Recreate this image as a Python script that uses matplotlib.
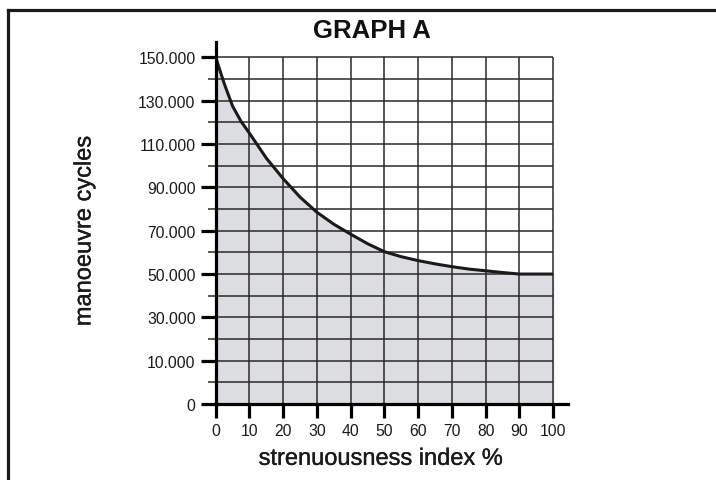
import matplotlib
matplotlib.use("Agg")
import matplotlib.pyplot as plt
import numpy as np
from matplotlib.lines import Line2D
import matplotlib.patheffects as pe

plt.rcParams['font.family'] = ['Liberation Sans', 'DejaVu Sans']

# strenuousness index % vs manoeuvre cycles
index_pct = [0, 2.5, 5, 7.5, 10, 15, 20, 25, 30, 35, 40, 45, 50,
             55, 60, 65, 70, 75, 80, 85, 90, 95, 100]
cycles = [150000, 138000, 127500, 120500, 115000, 103500, 94000, 85500, 78500, 73000, 68400,
          64000, 60300, 58000, 56200, 54700, 53400, 52300, 51500, 50700, 50000, 50000, 50000]

x_ticks = [0, 10, 20, 30, 40, 50, 60, 70, 80, 90, 100]
y_ticks = [0, 10000, 30000, 50000, 70000, 90000, 110000, 130000, 150000]
y_minor = [5000, 20000, 40000, 60000, 80000, 100000, 120000, 140000]
y_labels = ['0', '10.000', '30.000', '50.000', '70.000', '90.000',
            '110.000', '130.000', '150.000']


# the printed axis puts 0 one step below 10.000, then 20.000 per step
def fwd(v):
    v = np.asarray(v, dtype=float)
    return np.where(v < 10000, v / 10000.0, (v + 10000.0) / 20000.0)


def inv(p):
    p = np.asarray(p, dtype=float)
    return np.where(p < 1, p * 10000.0, p * 20000.0 - 10000.0)


fig = plt.figure(figsize=(7.16, 4.81), dpi=100)
ax = fig.add_axes([0.3013, 0.158, 0.4925, 0.752])
ax.set_yscale('function', functions=(fwd, inv))
ax.set_xlim(0, 104.5)
ax.set_ylim(0, 157000)

# filled area under the curve
ax.fill_between(index_pct, 0, cycles, color='#dcdde0', zorder=1)

# grid only inside 0..100 / 0..150.000
grid_col = '#2a2a2a'
ax.vlines(x_ticks[1:], 0, y_ticks[-1], color=grid_col, lw=1.1, zorder=2)
ax.hlines(sorted(y_ticks[1:] + y_minor), 0, x_ticks[-1], color=grid_col, lw=1.1, zorder=2)

ax.plot(index_pct, cycles, color='#1a1a1a', lw=2.2, zorder=3,
        solid_capstyle='butt', solid_joinstyle='round')

for s in ['top', 'right']:
    ax.spines[s].set_visible(False)
for s in ['left', 'bottom']:
    ax.spines[s].set_linewidth(2.3)
    ax.spines[s].set_color('black')
    ax.spines[s].set_zorder(4)

ax.set_xticks(x_ticks)
ax.set_xticklabels([str(t) for t in x_ticks])
ax.set_yticks(y_ticks)
ax.set_yticklabels(y_labels)
ax.set_yticks(y_minor, minor=True)
ax.tick_params(axis='both', which='major', direction='out', width=2.3, color='black',
               labelsize=11.3, labelcolor='#1a1a1a')
ax.tick_params(axis='y', which='major', length=11, pad=3.5)
ax.tick_params(axis='x', which='major', length=10, pad=4)
ax.tick_params(axis='y', which='minor', length=6, width=1.1, color=grid_col)
ax.tick_params(axis='x', which='minor', length=0)
ax.set_facecolor('white')

# slightly heavier strokes, like a medium weight
medium = [pe.withStroke(linewidth=0.25, foreground='#1a1a1a')]

fig.text(0.52, 0.935, 'GRAPH A', ha='center', va='center', fontsize=18.5,
         fontweight='bold', color='#111111')
fig.text(0.532, 0.044, 'strenuousness index %', ha='center', va='center',
         fontsize=17, color='#1a1a1a', path_effects=medium)
fig.text(0.118, 0.518, 'manoeuvre cycles', ha='center', va='center', rotation=90,
         fontsize=17, color='#1a1a1a', path_effects=medium)

# frame: top and left edges of the box
fig.add_artist(Line2D([8 / 716, 1.0], [1 - 10.5 / 481, 1 - 10.5 / 481],
                      transform=fig.transFigure, color='#1a1a1a', lw=2.3))
fig.add_artist(Line2D([8 / 716, 8 / 716], [0, 1 - 10.5 / 481],
                      transform=fig.transFigure, color='#1a1a1a', lw=2.3))

fig.savefig('out.png', dpi=100)
